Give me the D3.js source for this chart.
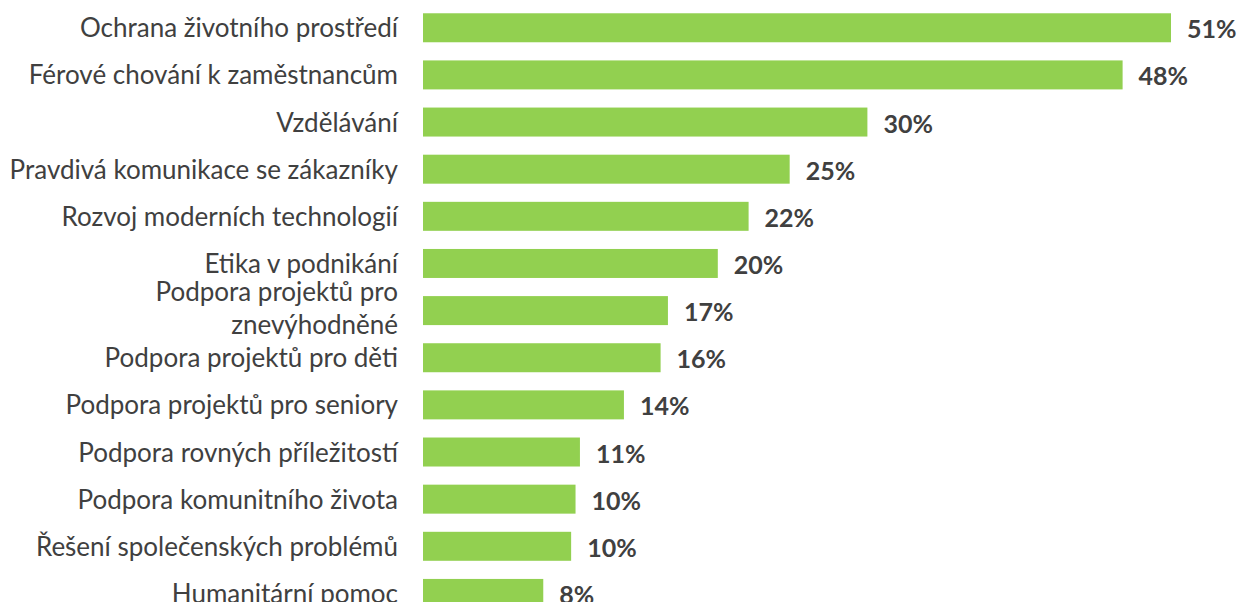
<!DOCTYPE html>
<html><head><meta charset="utf-8">
<script src="https://cdn.jsdelivr.net/npm/d3@7/dist/d3.min.js"></script>
<style>html,body{margin:0;padding:0;background:#fff;}svg{display:block;}</style>
</head><body>
<script>
const categories = [
  "Ochrana životního prostředí",
  "Férové chování k zaměstnancům",
  "Vzdělávání",
  "Pravdivá komunikace se zákazníky",
  "Rozvoj moderních technologií",
  "Etika v podnikání",
  "Podpora projektů pro znevýhodněné",
  "Podpora projektů pro děti",
  "Podpora projektů pro seniory",
  "Podpora rovných příležitostí",
  "Podpora komunitního života",
  "Řešení společenských problémů",
  "Humanitární pomoc"
];
const labelLines = [
  ["Ochrana životního prostředí"],
  ["Férové chování k zaměstnancům"],
  ["Vzdělávání"],
  ["Pravdivá komunikace se zákazníky"],
  ["Rozvoj moderních technologií"],
  ["Etika v podnikání"],
  ["Podpora projektů pro", "znevýhodněné"],
  ["Podpora projektů pro děti"],
  ["Podpora projektů pro seniory"],
  ["Podpora rovných příležitostí"],
  ["Podpora komunitního života"],
  ["Řešení společenských problémů"],
  ["Humanitární pomoc"]
];
const values = [51.0, 47.7, 30.3, 25.0, 22.2, 20.1, 16.7, 16.2, 13.7, 10.7, 10.4, 10.1, 8.2];
const valueLabels = ["51%", "48%", "30%", "25%", "22%", "20%", "17%", "16%", "14%", "11%", "10%", "10%", "8%"];

const W = 1239, H = 602;
const svg = d3.select("body").append("svg").attr("width", W).attr("height", H);

const x = d3.scaleLinear().domain([0, 51]).range([423, 1171]);
const y = d3.scaleBand().domain(categories).range([4.2, 617]).paddingInner(0.385).paddingOuter(0.1925);

const font = "Lato, 'Open Sans', sans-serif";
const txt = "#404040";

svg.selectAll("rect.bar").data(categories).join("rect")
  .attr("class", "bar")
  .attr("x", x(0))
  .attr("y", d => y(d))
  .attr("width", (d, i) => x(values[i]) - x(0))
  .attr("height", y.bandwidth())
  .attr("fill", "#92D050");

svg.selectAll("text.val").data(categories).join("text")
  .attr("class", "val")
  .attr("x", (d, i) => x(values[i]) + 16)
  .attr("y", d => y(d) + y.bandwidth() / 2 + 10.5)
  .attr("font-family", font).attr("font-weight", "bold").attr("font-size", 25)
  .attr("fill", txt)
  .text((d, i) => valueLabels[i]);

const cat = svg.selectAll("text.cat").data(categories).join("text")
  .attr("class", "cat")
  .attr("text-anchor", "end")
  .attr("font-family", font).attr("font-size", 26)
  .attr("fill", txt);
cat.each(function(d, i) {
  const lines = labelLines[i];
  const c = y(d) + y.bandwidth() / 2;
  const t = d3.select(this);
  lines.forEach((ln, j) => {
    const base = lines.length === 1 ? c + 9.5 : c - 10 + j * 33;
    t.append("tspan").attr("x", 398).attr("y", base).text(ln);
  });
});
</script>
</body></html>
